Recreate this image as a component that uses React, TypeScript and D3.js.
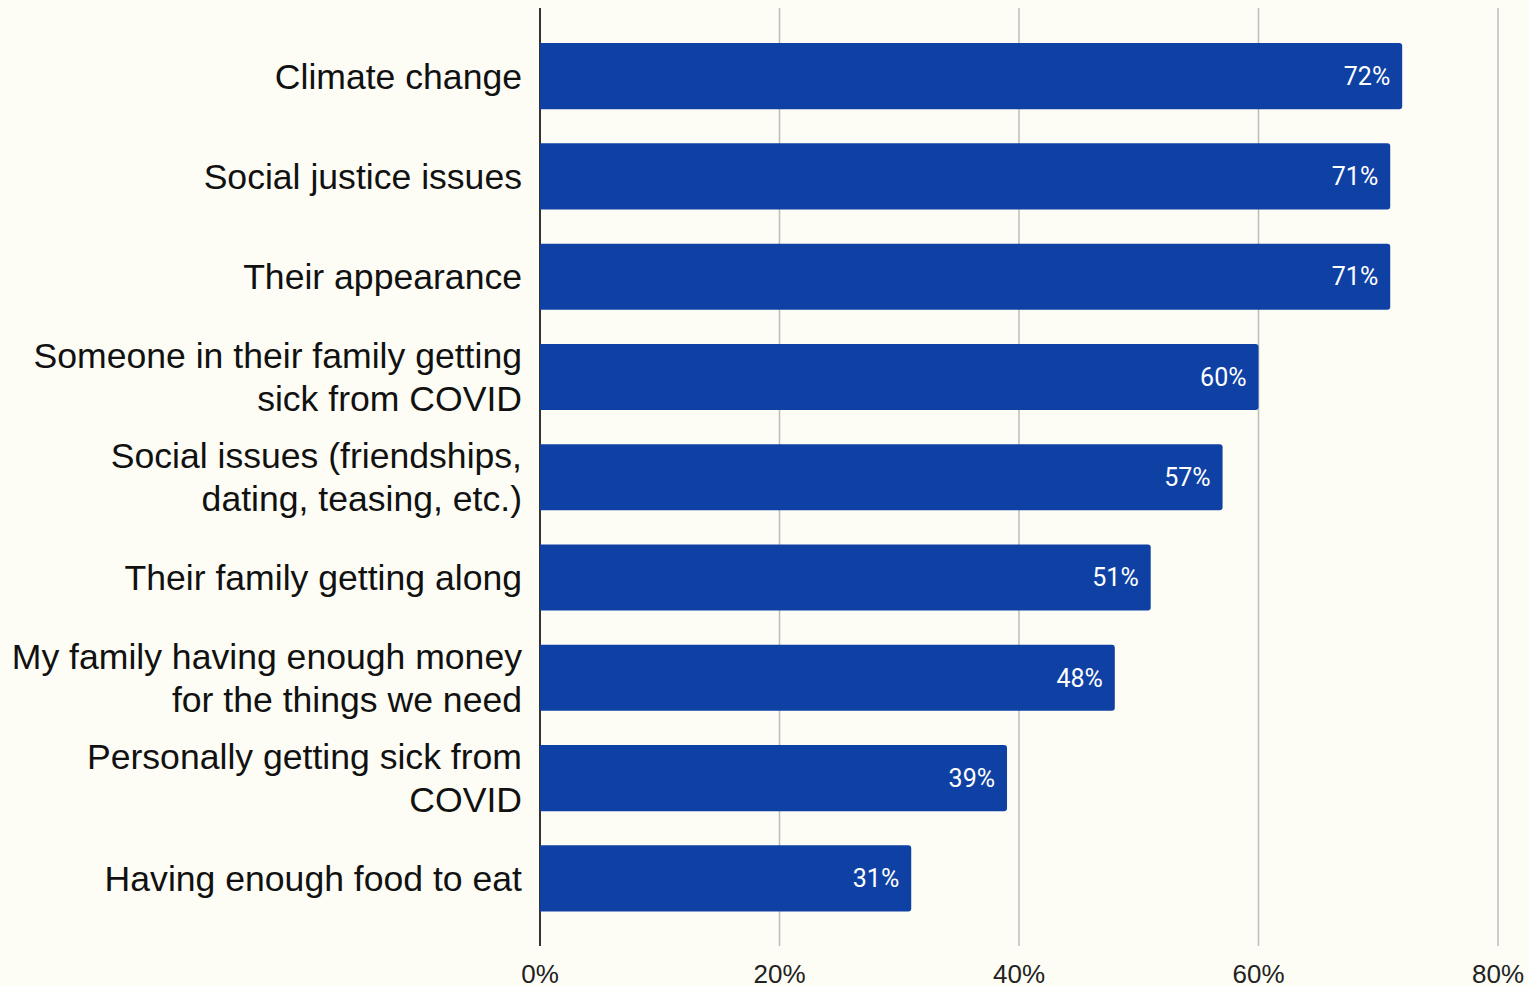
import React from "react";
import * as d3 from "d3";

const categories = [
  ["Climate change"],
  ["Social justice issues"],
  ["Their appearance"],
  ["Someone in their family getting", "sick from COVID"],
  ["Social issues (friendships,", "dating, teasing, etc.)"],
  ["Their family getting along"],
  ["My family having enough money", "for the things we need"],
  ["Personally getting sick from", "COVID"],
  ["Having enough food to eat"],
];
const values = [72, 71, 71, 60, 57, 51, 48, 39, 31];
const tickValues = [0, 20, 40, 60, 80];

const W = 1529;
const H = 986;
const LABEL_FONT = "'Liberation Sans', Arial, sans-serif";
const VALUE_FONT = "Roboto, 'Noto Sans', sans-serif";

export default function App() {
  const keys = categories.map((c) => c.join(" "));
  const x = d3.scaleLinear().domain([0, 80]).range([540, 1498]);
  const y = d3
    .scaleBand<string>()
    .domain(keys)
    .range([8, 946.5])
    .paddingInner(0.34)
    .paddingOuter(0.35);
  const r = 3;
  const barPath = (v: number, top: number, h: number) => {
    const x0 = x(0);
    const x1 = x(v);
    return `M${x0},${top}H${x1 - r}Q${x1},${top} ${x1},${top + r}V${top + h - r}Q${x1},${top + h} ${x1 - r},${top + h}H${x0}Z`;
  };
  return (
    <svg
      width={W}
      height={H}
      style={{ position: "absolute", left: 0, top: 0, background: "#fdfdf5" }}
    >
      <rect x={0} y={0} width={W} height={H} fill="#fdfdf5" />
      {tickValues.map((t) => (
        <line
          key={t}
          x1={x(t)}
          x2={x(t)}
          y1={8}
          y2={946}
          stroke={t === 0 ? "#333" : "#bdbdbd"}
          strokeWidth={t === 0 ? 2 : 1.5}
        />
      ))}
      {keys.map((k, i) => {
        const top = y(k)!;
        const h = y.bandwidth();
        const cy = top + h / 2;
        const lines = categories[i];
        const lh = 43;
        return (
          <g key={k}>
            <path d={barPath(values[i], top, h)} fill="#0f41a5" />
            <text
              x={x(values[i]) - 12}
              y={cy}
              dy="0.35em"
              textAnchor="end"
              fill="#ffffff"
              fontSize={25}
              fontFamily={VALUE_FONT}
            >
              {values[i]}%
            </text>
            <text
              textAnchor="end"
              fill="#111"
              fontSize={35.6}
              fontFamily={LABEL_FONT}
            >
              {lines.map((ln, j) => (
                <tspan
                  key={j}
                  x={522}
                  y={cy + (j - (lines.length - 1) / 2) * lh}
                  dy="0.35em"
                >
                  {ln}
                </tspan>
              ))}
            </text>
          </g>
        );
      })}
      {tickValues.map((t) => (
        <text
          key={t}
          x={x(t)}
          y={983}
          textAnchor="middle"
          fill="#222"
          fontSize={26}
          fontFamily={LABEL_FONT}
        >
          {t}%
        </text>
      ))}
    </svg>
  );
}
